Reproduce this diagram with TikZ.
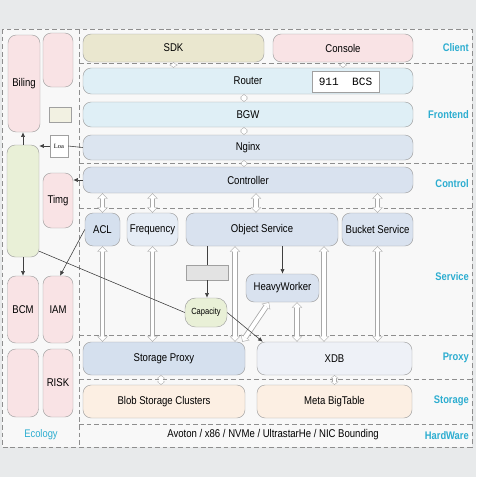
\documentclass[tikz,border=0pt]{standalone}
\usepackage{fontspec}
\setmainfont{Liberation Sans}[FakeStretch=0.85]
\setmonofont{Liberation Mono}
\newfontfamily\loafont{Liberation Serif}
\usetikzlibrary{arrows.meta}

\definecolor{edgegray}{HTML}{A0A0A0}
\definecolor{sepgray}{HTML}{8E8E8E}
\definecolor{tagcyan}{HTML}{2CADD0}
\definecolor{sdkfill}{HTML}{EAE7CF}
\definecolor{pinkfill}{HTML}{F9E3E5}
\definecolor{routerfill}{HTML}{DFEFF6}
\definecolor{nginxfill}{HTML}{DCE5F0}
\definecolor{ctrlfill}{HTML}{D9E2EF}
\definecolor{svcfill}{HTML}{D5E0EE}
\definecolor{freqfill}{HTML}{E5ECF5}
\definecolor{xdbfill}{HTML}{EEF1F7}
\definecolor{storefill}{HTML}{FCEFE3}
\definecolor{greenfill}{HTML}{E9F0D7}
\definecolor{pagebg}{HTML}{E8EAEB}
\definecolor{framebg}{HTML}{F8F8F8}
\definecolor{pipegray}{HTML}{A8A8A8}

\newcommand{\pxu}{0.03cm}

\begin{document}
\begin{tikzpicture}[x=0.03cm, y=-0.03cm,
 blk/.style 2 args={rectangle,
 draw=edgegray,
 rounded corners=7pt,
 inner sep=0pt,
 minimum width=#1*\pxu,
 minimum height=#2*\pxu,
 font=\fontsize{9.6}{11}\selectfont},
 laylabel/.style={text=tagcyan, anchor=east, inner sep=0pt,
 font=\bfseries\fontsize{9.4}{11}\selectfont},
 sep/.style={draw=sepgray, line width=0.7pt, dash pattern=on 4pt off 2.5pt},
 pipe/.style={draw=white, line width=3.4pt,
 {Triangle[length=3.6pt, width=7pt, line width=0pt]}-{Triangle[length=3.6pt, width=7pt, line width=0pt]},
 shorten <=0.7pt, shorten >=0.7pt,
 preaction={draw=pipegray, line width=4.8pt, shorten <=0pt, shorten >=0pt,
 {Triangle[length=4.6pt, width=8.8pt, line width=0pt]}-{Triangle[length=4.6pt, width=8.8pt, line width=0pt]}}},
 link/.style={draw=white, line width=2.6pt,
 {Triangle[length=1.8pt, width=5pt, line width=0pt]}-{Triangle[length=1.8pt, width=5pt, line width=0pt]},
 shorten <=0.6pt, shorten >=0.6pt,
 preaction={draw=pipegray, line width=4pt, shorten <=0pt, shorten >=0pt,
 {Triangle[length=2.6pt, width=6.6pt, line width=0pt]}-{Triangle[length=2.6pt, width=6.6pt, line width=0pt]}}},
 flow/.style={draw=gray!50!black, line width=0.5pt}]

 \useasboundingbox (0,0) rectangle (476,477);
 \fill[pagebg] (0,0) rectangle (476,477);
 \fill[framebg] (2,29) rectangle (472,447);

 \draw[sep] (2,29) rectangle (472,447);
 \draw[sep] (79,29) -- (79,447);
 \foreach \yy in {63,163,208,335,379,424}
 \draw[sep] (79,\yy) -- (472,\yy);

 \node[blk={181}{28}, fill=sdkfill] (sdk) at (173.5,48) {SDK};
 \node[blk={140}{28}, fill=pinkfill] (console) at (343,48) {Console};
 \node[blk={330}{26}, fill=routerfill] (router) at (248,81) {Router};
 \node[rectangle, 
 draw=edgegray,
 fill=white,
 minimum width=67*\pxu,
 minimum height=21*\pxu,
 font=\ttfamily\fontsize{9.5}{11}\selectfont] (bcs) at (345.5,81.5) {911\ \ BCS};
 \node[blk={330}{25}, fill=routerfill] (bgw) at (248,114.5) {BGW};
 \node[blk={330}{25}, fill=nginxfill] (nginx) at (248,147.5) {Nginx};
 \node[blk={330}{26}, fill=ctrlfill] (controller) at (248,180) {Controller};

 \node[blk={35}{33}, fill=svcfill] (acl) at (102.5,229.5) {ACL};
 \node[blk={51}{33}, fill=freqfill] (freq) at (152.5,229.5) {Frequency};
 \node[blk={152}{33}, fill=ctrlfill] (objsvc) at (262,229.5) {Object Service};
 \node[blk={71}{33}, fill=ctrlfill] (bucket) at (377.5,229.5) {Bucket Service};
 \node[rectangle, 
 draw=edgegray,
 fill=gray!22,
 minimum width=42*\pxu,
 minimum height=15*\pxu] (capsrc) at (207,272.5) {};
 \node[blk={42}{29}, fill=greenfill, rounded corners=9pt,
 font=\fontsize{7.6}{9}\selectfont] (capacity) at (206,312.5) {Capacity};
 \node[blk={73}{28}, fill=ctrlfill] (heavy) at (282.5,288) {HeavyWorker};

 \node[blk={162}{33}, fill=svcfill] (sproxy) at (164,358.5) {Storage Proxy};
 \node[blk={155}{33}, fill=xdbfill] (xdb) at (334.5,358.5) {XDB};
 \node[blk={162}{33}, fill=storefill] (blob) at (164,401.5) {Blob Storage Clusters};
 \node[blk={155}{33}, fill=storefill] (meta) at (334.5,401.5) {Meta BigTable};
 \node[inner sep=0pt, font=\fontsize{9.6}{11}\selectfont] (hw) at (273,435) {Avoton / x86 / NVMe / UltrastarHe / NIC Bounding};

 \node[blk={32}{97}, fill=pinkfill] (biling) at (24,83.5) {Biling};
 \node[blk={30}{54}, fill=pinkfill] (ecotop) at (58,60) {};
 \node[rectangle, draw=edgegray, fill=sdkfill!60, minimum width=22*\pxu, minimum height=15*\pxu] (ecotag) at (60,114.5) {};
 \node[rectangle, 
 draw=edgegray,
 fill=white,
 minimum width=18*\pxu,
 minimum height=22*\pxu,
 font=\loafont\fontsize{5.5}{6}\selectfont] (loa) at (59,146) {Loa};
 \node[blk={32}{112}, fill=greenfill] (green) at (23,201) {};
 \node[blk={30}{55}, fill=pinkfill] (timg) at (58,200.5) {Timg};
 \node[blk={31}{67}, fill=pinkfill] (bcm) at (23,309.5) {BCM};
 \node[blk={30}{67}, fill=pinkfill] (iam) at (58,309.5) {IAM};
 \node[blk={31}{68}, fill=pinkfill] (ecolow) at (23,383) {};
 \node[blk={30}{68}, fill=pinkfill] (risk) at (58,383) {RISK};

 \node[laylabel] (lclient) at (469,48) {Client};
 \node[laylabel] (lfront) at (469,115) {Frontend};
 \node[laylabel] (lctrl) at (469,184) {Control};
 \node[laylabel] (lsvc) at (469,277) {Service};
 \node[laylabel] (lproxy) at (469,358) {Proxy};
 \node[laylabel] (lstore) at (469,401) {Storage};
 \node[laylabel] (lhw) at (469,436) {HardWare};
 \node[laylabel, anchor=center, font=\fontsize{9.4}{11}\selectfont] (leco) at (41,435) {Ecology};

 \draw[link] (sdk.south) -- (sdk.south |- router.north);
 \draw[link] (console.south) -- (console.south |- router.north);
 \draw[link] ([xshift=-4*\pxu]router.south) -- ([xshift=-4*\pxu]bgw.north);
 \draw[link] ([xshift=-4*\pxu]bgw.south) -- ([xshift=-4*\pxu]nginx.north);
 \draw[link] ([xshift=-4*\pxu]nginx.south) -- ([xshift=-4*\pxu]controller.north);
 \draw[pipe] (acl.north |- controller.south) -- (acl.north);
 \draw[pipe] (freq.north |- controller.south) -- (freq.north);
 \draw[pipe] ([xshift=-6*\pxu]objsvc.north |- controller.south) -- ([xshift=-6*\pxu]objsvc.north);
 \draw[pipe] (bucket.north |- controller.south) -- (bucket.north);

 \draw[pipe] (acl.south) -- (acl.south |- sproxy.north);
 \draw[pipe] (freq.south) -- (freq.south |- sproxy.north);
 \draw[pipe] ([xshift=-27*\pxu]objsvc.south) -- ([xshift=-27*\pxu]objsvc.south |- sproxy.north);
 \draw[pipe] ([xshift=62*\pxu]objsvc.south) -- ([xshift=62*\pxu]objsvc.south |- xdb.north);
 \draw[pipe] (bucket.south) -- (bucket.south |- xdb.north);
 \draw[pipe] ([xshift=14.5*\pxu]heavy.south) -- ([xshift=14.5*\pxu]heavy.south |- xdb.north);
 \draw[pipe] ([xshift=-13.5*\pxu]heavy.south) -- ([xshift=-3*\pxu]sproxy.north east);
 \draw[link] ([xshift=-3*\pxu]sproxy.south) -- ([xshift=-3*\pxu]blob.north);
 \draw[link] (xdb.south) -- (meta.north);

 \draw[flow, -{Latex[length=4pt, width=3.5pt]}] (heavy.north |- objsvc.south) -- (heavy.north);
 \draw[flow] (capsrc.north |- objsvc.south) -- (capsrc.north);
 \draw[flow, -{Latex[length=4pt, width=3.5pt]}] (capsrc.south) -- (capsrc.south |- capacity.north);
 \draw[flow] ([yshift=6*\pxu]green.south east) -- (capacity.west);
 \draw[flow, -{Latex[length=4pt, width=3.5pt]}] (capacity.east) -- ([xshift=6*\pxu]xdb.north west);
 \draw[flow] (nginx.west) -- (loa.east);
 \draw[flow, -{Latex[length=4pt, width=3.5pt]}] (loa.west) -- (loa.west -| green.east);
 \draw[flow, -{Latex[length=4pt, width=3.5pt]}] (controller.west) -- (controller.west -| timg.east);
 \draw[flow, -{Latex[length=4pt, width=3.5pt]}] (green.north) -- (green.north |- biling.south);
 \draw[flow, -{Latex[length=4pt, width=3.5pt]}] (green.south) -- (green.south |- bcm.north);
 \draw[flow, -{Latex[length=4pt, width=3.5pt]}] (acl.west) -- ([xshift=2*\pxu]iam.north);

\end{tikzpicture}
\end{document}
